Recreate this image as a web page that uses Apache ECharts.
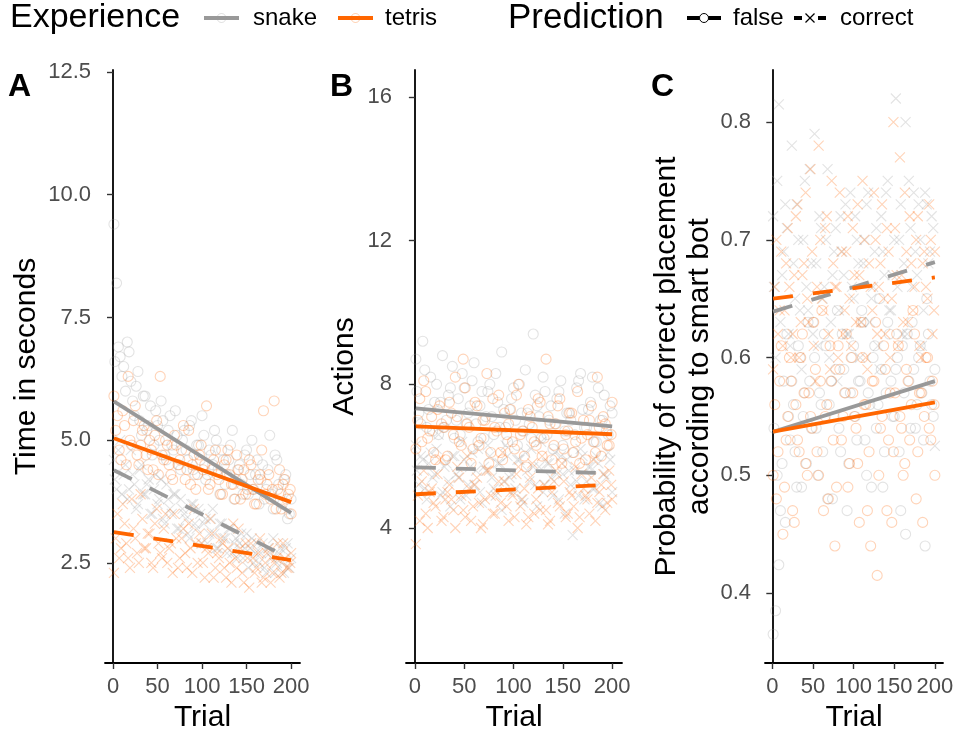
<!DOCTYPE html>
<html><head><meta charset="utf-8">
<script src="https://cdn.jsdelivr.net/npm/echarts@6/dist/echarts.min.js"></script>
<style>html,body{margin:0;padding:0;background:#fff}#c{width:966px;height:735px}</style>
</head><body><div id="c"></div><script>
// ---- data ----
const TRIALS_SNAKE = [1,4,8,12,16,20,24,28,32,36,40,44,48,52,56,60,64,68,72,76,80,84,88,92,96,100,104,108,112,116,120,124,128,132,136,140,144,148,152,156,160,164,168,172,176,180,184,188,192,196,200];
const TRIALS_TETRIS = [1,5,9,13,17,21,25,29,33,37,41,45,49,53,57,61,65,69,73,77,81,85,89,93,97,101,105,109,113,117,121,125,129,133,137,141,145,149,153,157,161,165,169,173,177,181,185,189,193,197,200];
const TRIALS_SNAKE_2 = [2,6,10,14,18,22,26,30,34,38,42,46,50,54,58,62,66,70,74,78,82,86,90,94,98,102,106,110,114,118,122,126,130,134,138,142,146,150,154,158,162,166,170,174,178,182,186,190,194,198];
const TRIALS_TETRIS_2 = [3,7,11,15,19,23,27,31,35,39,43,47,51,55,59,63,67,71,75,79,83,87,91,95,99,103,107,111,115,119,123,127,131,135,139,143,147,151,155,159,163,167,171,175,179,183,187,191,195,199];
const FIT_TRIALS = [1, 200];

// Panel A: time in seconds
const A_SNAKE_FALSE = [9.4,8.2,6.7,6.5,7.0,6.2,5.5,6.4,5.1,5.9,5.3,4.7,5.6,5.0,5.4,4.6,5.5,4.8,5.1,4.4,5.2,4.6,5.4,4.3,4.9,5.5,4.2,4.8,4.5,5.0,3.9,4.6,4.3,4.9,3.8,4.4,4.1,4.7,3.9,5.0,4.3,3.7,4.5,4.0,5.1,3.6,4.6,3.9,4.2,3.4,3.8];
const A_SNAKE_FALSE_2 = [6.6,6.9,6.3,6.0,6.8,5.8,6.1,5.4,5.9,5.2,5.7,4.9,5.3,5.8,4.7,5.2,4.9,5.6,4.5,5.0,4.8,5.3,4.4,4.9,4.6,5.1,4.3,4.7,5.2,4.4,4.8,4.1,4.6,5.2,4.2,4.5,3.9,4.8,4.3,4.0,4.6,4.2,3.8,4.4,3.9,4.7,4.1,3.7,4.3,3.5];
const A_TETRIS_FALSE = [5.9,5.5,4.6,5.3,6.3,4.9,5.7,4.5,5.2,4.7,5.0,4.4,5.4,6.3,4.6,4.9,4.3,5.1,4.5,4.8,4.2,5.2,4.5,4.0,4.7,4.4,5.7,4.1,4.6,4.3,3.9,4.5,4.8,4.1,3.8,4.4,4.2,3.9,4.6,4.0,3.7,4.3,5.6,4.1,3.8,5.8,4.0,3.6,4.2,3.9,3.5];
const A_TETRIS_FALSE_2 = [5.2,4.8,5.6,4.5,5.0,5.4,4.7,4.9,5.3,4.4,4.8,5.1,4.3,4.7,5.0,4.5,4.2,4.9,4.6,5.3,4.4,4.1,4.7,4.3,4.9,4.5,4.0,4.4,4.8,4.2,3.9,4.6,4.3,4.1,4.7,3.8,4.4,4.0,4.5,3.7,4.2,4.8,3.9,4.3,4.0,3.6,4.4,4.1,3.8,4.0];
const A_SNAKE_CORRECT = [4.6,4.0,5.0,4.3,3.8,4.8,4.1,3.7,4.5,3.9,4.2,3.5,4.3,3.8,3.4,4.1,3.6,3.9,3.2,3.8,3.5,3.1,3.7,3.3,3.6,2.9,3.4,3.1,3.6,2.8,3.3,3.0,2.7,3.2,2.9,2.6,3.1,2.8,2.4,3.0,2.7,2.5,2.9,2.3,2.7,3.0,2.5,2.8,2.3,2.9,2.6];
const A_SNAKE_CORRECT_2 = [4.2,4.8,3.9,4.5,4.0,4.3,3.6,4.4,3.9,4.1,3.5,4.0,3.7,4.2,3.3,3.8,3.5,3.9,3.2,3.6,3.4,3.0,3.7,3.2,3.5,3.3,2.9,3.4,3.1,2.8,3.3,3.0,3.2,2.7,3.0,2.9,2.6,3.1,2.8,2.5,2.9,2.7,2.4,2.8,2.6,2.3,2.7,2.5,2.8,2.4];
const A_TETRIS_CORRECT = [2.3,3.5,2.8,3.3,2.6,3.8,3.0,2.5,3.4,2.8,3.1,2.4,3.6,2.7,3.2,2.5,2.9,3.5,2.4,3.0,2.7,3.3,2.3,2.9,3.1,2.5,2.8,3.4,2.2,2.7,3.0,2.4,2.8,2.1,2.6,3.2,2.3,2.9,2.0,2.6,2.4,3.0,2.2,2.7,2.1,2.5,2.9,2.3,2.6,2.4,2.7];
const A_TETRIS_CORRECT_2 = [3.0,2.6,3.7,2.9,2.4,3.2,2.7,3.9,2.8,3.1,2.5,3.3,2.9,2.6,3.5,2.8,2.3,3.0,2.6,3.2,2.4,2.8,3.6,2.5,2.9,2.2,2.7,3.1,2.4,2.6,2.9,2.2,2.5,3.3,2.4,2.8,2.1,2.6,2.9,2.3,2.7,2.1,2.5,2.8,2.3,2.6,2.2,2.9,2.4,2.5];
const A_FIT_SNAKE_FALSE = [5.79, 3.52];
const A_FIT_TETRIS_FALSE = [5.04, 3.74];
const A_FIT_SNAKE_CORRECT = [4.39, 2.58];
const A_FIT_TETRIS_CORRECT = [3.13, 2.56];

// Panel B: actions
const B_SNAKE_FALSE = [8.7,7.2,9.2,6.8,8.2,7.5,6.6,8.8,7.0,7.9,6.5,7.6,8.3,6.9,7.4,8.6,6.4,7.8,7.1,8.0,6.6,7.5,8.9,6.8,7.3,7.9,6.3,7.2,8.4,6.9,9.4,7.4,6.5,7.8,7.0,6.2,7.6,8.1,6.7,7.2,6.1,7.9,8.3,6.8,7.3,8.2,6.4,7.0,7.7,6.6,7.2];
const B_SNAKE_FALSE_2 = [7.8,6.9,8.4,7.3,6.7,8.0,7.5,6.8,7.7,8.5,7.0,6.6,7.9,7.2,8.1,6.9,7.4,6.5,7.8,7.1,8.3,6.8,7.3,6.4,7.6,7.0,8.0,6.7,7.2,6.5,7.7,7.1,8.2,6.6,7.4,6.9,7.8,6.3,7.2,7.0,6.6,8.1,7.3,6.8,7.5,6.4,7.9,7.0,6.7,7.4];
const B_TETRIS_FALSE = [6.2,7.6,8.1,6.5,7.1,5.9,7.4,6.8,6.0,7.2,8.2,6.4,8.7,6.9,5.8,7.5,6.3,7.0,8.3,6.1,6.8,7.7,5.9,6.6,7.3,6.2,8.0,6.7,5.7,7.1,6.4,7.6,6.0,8.7,6.9,6.3,7.4,5.8,6.6,7.2,6.1,7.8,6.5,5.9,7.0,6.4,8.2,6.0,6.9,6.3,7.5];
const B_TETRIS_FALSE_2 = [7.0,6.4,7.8,6.7,6.1,7.3,6.9,5.9,7.5,6.6,7.1,6.3,7.9,6.8,6.2,7.4,6.5,7.0,5.8,7.6,6.7,6.1,7.2,6.9,6.4,7.7,6.6,6.0,7.3,6.8,6.3,7.5,6.5,7.1,5.9,6.9,7.6,6.2,6.7,7.2,6.4,5.8,7.0,6.6,7.4,6.1,6.8,7.1,6.3,6.6];
const B_SNAKE_CORRECT = [6.3,5.2,5.9,4.8,6.1,5.5,6.6,5.0,5.8,4.6,6.0,5.4,6.4,4.9,5.7,5.2,6.2,4.7,5.6,6.0,5.1,5.8,4.5,6.3,5.4,5.0,5.9,4.8,6.1,5.3,5.7,4.6,6.4,5.2,5.8,4.9,5.5,6.0,4.4,5.6,3.8,5.3,6.2,4.8,5.7,5.1,6.0,4.7,5.5,6.1,5.0];
const B_SNAKE_CORRECT_2 = [5.6,6.0,5.1,5.8,5.4,6.2,4.9,5.7,5.3,6.0,5.5,4.8,5.9,5.2,6.1,5.6,5.0,5.7,6.3,5.4,4.9,5.8,5.3,6.0,5.5,5.1,5.9,4.7,5.6,6.2,5.2,5.7,5.0,5.8,5.4,6.1,4.8,5.5,5.9,5.2,5.6,4.9,6.0,5.3,5.7,5.1,5.8,4.6,5.4,5.9];
const B_TETRIS_CORRECT = [3.55,4.2,5.6,4.0,5.1,4.6,5.9,4.3,5.0,4.8,4.0,5.4,4.5,6.0,4.2,5.2,4.7,4.1,5.6,4.9,4.4,5.3,6.1,4.6,5.0,4.3,5.7,4.8,4.1,5.4,4.4,5.1,6.0,4.5,4.2,5.3,4.7,5.8,4.3,5.0,4.6,4.0,5.5,4.9,4.4,5.9,4.7,5.2,4.5,5.6,4.8];
const B_TETRIS_CORRECT_2 = [4.9,5.3,4.4,5.0,4.7,5.5,4.2,4.8,5.2,4.5,5.7,4.9,4.3,5.1,4.6,5.4,4.0,4.8,5.6,4.4,5.0,4.7,5.3,4.2,4.9,5.5,4.6,5.1,4.3,5.8,4.8,4.5,5.2,4.1,5.0,5.6,4.6,5.3,4.4,4.9,5.7,4.3,5.1,4.8,5.4,4.2,5.0,5.5,4.7,5.2];
const B_FIT_SNAKE_FALSE = [7.33, 6.83];
const B_FIT_TETRIS_FALSE = [6.83, 6.61];
const B_FIT_SNAKE_CORRECT = [5.69, 5.52];
const B_FIT_TETRIS_CORRECT = [4.94, 5.21];

// Panel C: probability of correct placement
const C_SNAKE_FALSE = [0.365,0.385,0.424,0.51,0.46,0.55,0.58,0.52,0.61,0.49,0.57,0.63,0.54,0.60,0.50,0.56,0.62,0.48,0.58,0.55,0.64,0.52,0.59,0.47,0.57,0.61,0.53,0.58,0.63,0.50,0.56,0.60,0.54,0.65,0.49,0.57,0.62,0.55,0.59,0.52,0.61,0.45,0.58,0.63,0.54,0.60,0.57,0.44,0.62,0.56,0.59];
const C_SNAKE_FALSE_2 = [0.54,0.50,0.47,0.58,0.62,0.53,0.56,0.49,0.60,0.55,0.51,0.58,0.63,0.54,0.57,0.52,0.61,0.56,0.48,0.59,0.54,0.62,0.57,0.51,0.60,0.55,0.58,0.64,0.53,0.57,0.49,0.61,0.56,0.59,0.52,0.63,0.58,0.55,0.60,0.47,0.57,0.62,0.54,0.59,0.56,0.61,0.53,0.65,0.58,0.55];
const C_TETRIS_FALSE = [0.50,0.48,0.58,0.45,0.53,0.60,0.47,0.56,0.52,0.62,0.51,0.57,0.54,0.59,0.50,0.64,0.55,0.48,0.58,0.44,0.61,0.53,0.57,0.49,0.60,0.55,0.51,0.63,0.56,0.47,0.44,0.58,0.415,0.54,0.61,0.47,0.57,0.52,0.62,0.55,0.50,0.59,0.53,0.64,0.48,0.57,0.46,0.60,0.54,0.58,0.50];
const C_TETRIS_FALSE_2 = [0.56,0.52,0.61,0.49,0.55,0.58,0.46,0.53,0.60,0.57,0.50,0.55,0.63,0.52,0.58,0.47,0.56,0.61,0.53,0.49,0.59,0.55,0.62,0.51,0.57,0.54,0.46,0.60,0.56,0.52,0.58,0.63,0.50,0.55,0.59,0.53,0.46,0.57,0.61,0.54,0.51,0.58,0.56,0.62,0.52,0.57,0.55,0.60,0.53,0.56];
const C_SNAKE_CORRECT = [0.72,0.60,0.815,0.67,0.73,0.62,0.78,0.65,0.70,0.59,0.75,0.64,0.68,0.79,0.61,0.71,0.66,0.76,0.63,0.69,0.58,0.72,0.67,0.62,0.74,0.65,0.70,0.60,0.68,0.73,0.63,0.66,0.71,0.59,0.69,0.74,0.64,0.67,0.82,0.70,0.62,0.80,0.75,0.66,0.69,0.73,0.61,0.74,0.68,0.72,0.525];
const C_SNAKE_CORRECT_2 = [0.66,0.75,0.63,0.69,0.71,0.61,0.68,0.73,0.64,0.70,0.66,0.76,0.62,0.68,0.72,0.65,0.70,0.60,0.67,0.71,0.64,0.69,0.73,0.62,0.66,0.72,0.68,0.63,0.70,0.74,0.65,0.69,0.61,0.72,0.67,0.75,0.64,0.70,0.66,0.73,0.68,0.62,0.71,0.74,0.67,0.70,0.64,0.73,0.69,0.71];
const C_TETRIS_CORRECT = [0.59,0.70,0.64,0.61,0.68,0.66,0.62,0.72,0.60,0.67,0.74,0.63,0.69,0.58,0.78,0.65,0.71,0.62,0.75,0.66,0.60,0.69,0.64,0.72,0.61,0.67,0.73,0.63,0.70,0.59,0.66,0.74,0.62,0.68,0.65,0.71,0.60,0.80,0.67,0.77,0.63,0.69,0.72,0.64,0.70,0.61,0.68,0.66,0.73,0.62,0.69];
const C_TETRIS_CORRECT_2 = [0.66,0.62,0.69,0.64,0.71,0.60,0.67,0.73,0.63,0.68,0.65,0.76,0.61,0.66,0.70,0.64,0.72,0.59,0.68,0.66,0.74,0.62,0.69,0.65,0.71,0.63,0.67,0.75,0.60,0.68,0.64,0.70,0.66,0.73,0.62,0.69,0.65,0.71,0.61,0.67,0.74,0.63,0.68,0.66,0.72,0.60,0.69,0.65,0.70,0.64];
const C_FIT_SNAKE_FALSE = [0.537, 0.580];
const C_FIT_TETRIS_FALSE = [0.537, 0.562];
const C_FIT_SNAKE_CORRECT = [0.639, 0.681];
const C_FIT_TETRIS_CORRECT = [0.650, 0.668];

const X_TICKS = [0, 50, 100, 150, 200];
const A_TICKS = [2.5, 5.0, 7.5, 10.0, 12.5];
const B_TICKS = [4, 8, 12, 16];
const C_TICKS = [0.4, 0.5, 0.6, 0.7, 0.8];

const SNAKE = '#999999', TETRIS = '#ff6600';
const FONT = 'Liberation Sans, Arial, sans-serif';

// ---- chart ----
const chart = echarts.init(document.getElementById('c'), null, {renderer: 'canvas'});
const grids = [
  {left: 105, top: 70, width: 195, height: 593, outerBoundsMode: 'none', containLabel: false},
  {left: 406, top: 70, width: 216, height: 593, outerBoundsMode: 'none', containLabel: false},
  {left: 765, top: 70, width: 178, height: 593, outerBoundsMode: 'none', containLabel: false}
];
const yRanges = [[0.463, 12.54], [0.242, 16.75], [0.3406, 0.8442]];
const yTicks = [A_TICKS, B_TICKS, C_TICKS];
const yFmt = [v => v.toFixed(1), v => String(v), v => v.toFixed(1)];
const yNames = ['Time in seconds', 'Actions', 'Probability of correct placement\naccording to smart bot'];
const yGaps = [62, 45, 49];

const xAxis = grids.map((g, i) => ({
  gridIndex: i, type: 'value', min: -9, max: 210,
  axisLine: {show: true, lineStyle: {color: '#000', width: 1.8}},
  axisTick: {show: true, customValues: X_TICKS, length: 6, lineStyle: {color: '#333', width: 1.4}},
  axisLabel: {customValues: X_TICKS, color: '#4d4d4d', fontSize: 22, fontFamily: FONT, margin: 13, hideOverlap: false},
  splitLine: {show: false},
  name: 'Trial', nameLocation: 'middle', nameGap: 40,
  nameTextStyle: {color: '#000', fontSize: 30, fontFamily: FONT}
}));
const yAxis = grids.map((g, i) => ({
  gridIndex: i, type: 'value', min: yRanges[i][0], max: yRanges[i][1],
  axisLine: {show: true, lineStyle: {color: '#000', width: 1.8}},
  axisTick: {show: true, customValues: yTicks[i], length: 6, lineStyle: {color: '#333', width: 1.4}},
  axisLabel: {customValues: yTicks[i], formatter: yFmt[i], color: '#4d4d4d', fontSize: 22, fontFamily: FONT, margin: 14, hideOverlap: false},
  splitLine: {show: false},
  name: yNames[i], nameLocation: 'middle', nameGap: yGaps[i], nameRotate: 90,
  nameTextStyle: {color: '#000', fontSize: 30, fontFamily: FONT, lineHeight: 33, align: 'center'}
}));

const CROSS = 'path://M0,0L10,10M10,0L0,10';
function pts(tr, ys) { const n = Math.min(tr.length, ys.length); return ys.slice(0, n).map((y, k) => [tr[k], y]); }
function scatter(i, tr, ys, color, correct) {
  return {
    type: 'scatter', xAxisIndex: i, yAxisIndex: i, data: pts(tr, ys), silent: true,
    symbol: correct ? CROSS : 'circle', symbolSize: 10,
    itemStyle: {color: 'transparent', borderColor: color, borderWidth: 1.1, opacity: 0.28}, z: 2
  };
}
function fit(i, ys, color, correct) {
  return {
    type: 'line', xAxisIndex: i, yAxisIndex: i, data: pts(FIT_TRIALS, ys), silent: true,
    symbol: 'none', lineStyle: {color: color, width: 3.8, type: correct ? [20, 20] : 'solid', cap: 'butt'}, z: 5
  };
}
const panels = [
  [[A_SNAKE_FALSE, A_SNAKE_FALSE_2], [A_TETRIS_FALSE, A_TETRIS_FALSE_2], [A_SNAKE_CORRECT, A_SNAKE_CORRECT_2], [A_TETRIS_CORRECT, A_TETRIS_CORRECT_2], A_FIT_SNAKE_FALSE, A_FIT_TETRIS_FALSE, A_FIT_SNAKE_CORRECT, A_FIT_TETRIS_CORRECT],
  [[B_SNAKE_FALSE, B_SNAKE_FALSE_2], [B_TETRIS_FALSE, B_TETRIS_FALSE_2], [B_SNAKE_CORRECT, B_SNAKE_CORRECT_2], [B_TETRIS_CORRECT, B_TETRIS_CORRECT_2], B_FIT_SNAKE_FALSE, B_FIT_TETRIS_FALSE, B_FIT_SNAKE_CORRECT, B_FIT_TETRIS_CORRECT],
  [[C_SNAKE_FALSE, C_SNAKE_FALSE_2], [C_TETRIS_FALSE, C_TETRIS_FALSE_2], [C_SNAKE_CORRECT, C_SNAKE_CORRECT_2], [C_TETRIS_CORRECT, C_TETRIS_CORRECT_2], C_FIT_SNAKE_FALSE, C_FIT_TETRIS_FALSE, C_FIT_SNAKE_CORRECT, C_FIT_TETRIS_CORRECT]
];
const series = [];
panels.forEach((p, i) => {
  series.push(scatter(i, TRIALS_SNAKE, p[0][0], SNAKE, false));
  series.push(scatter(i, TRIALS_SNAKE_2, p[0][1], SNAKE, false));
  series.push(scatter(i, TRIALS_TETRIS, p[1][0], TETRIS, false));
  series.push(scatter(i, TRIALS_TETRIS_2, p[1][1], TETRIS, false));
  series.push(scatter(i, TRIALS_SNAKE, p[2][0], SNAKE, true));
  series.push(scatter(i, TRIALS_SNAKE_2, p[2][1], SNAKE, true));
  series.push(scatter(i, TRIALS_TETRIS, p[3][0], TETRIS, true));
  series.push(scatter(i, TRIALS_TETRIS_2, p[3][1], TETRIS, true));
});
panels.forEach((p, i) => {
  series.push(fit(i, p[4], SNAKE, false));
  series.push(fit(i, p[5], TETRIS, false));
  series.push(fit(i, p[6], SNAKE, true));
  series.push(fit(i, p[7], TETRIS, true));
});

const LY = 18;
const txt = (x, y, s, size, bold) => ({type: 'text', x: x, y: y, style: {text: s, fill: '#000', fontSize: size, fontFamily: FONT, fontWeight: bold ? 'bold' : 'normal', verticalAlign: 'middle'}});
const seg = (x1, x2, color) => ({type: 'line', shape: {x1: x1, y1: LY, x2: x2, y2: LY}, style: {stroke: color, lineWidth: 4}});
const graphic = [
  txt(10, LY, 'Experience', 34), seg(204, 239, SNAKE),
  {type: 'circle', shape: {cx: 221.5, cy: LY, r: 4.5}, style: {fill: 'none', stroke: SNAKE, lineWidth: 1, opacity: 0.3}},
  txt(253, LY, 'snake', 24), seg(338, 373, TETRIS),
  {type: 'circle', shape: {cx: 355.5, cy: LY, r: 4.5}, style: {fill: 'none', stroke: TETRIS, lineWidth: 1, opacity: 0.3}},
  txt(385, LY, 'tetris', 24),
  txt(508, LY, 'Prediction', 35), seg(687, 721, '#000'),
  {type: 'circle', shape: {cx: 704, cy: LY, r: 4.5}, style: {fill: '#fff', stroke: '#000', lineWidth: 1}},
  txt(733, LY, 'false', 24),
  seg(794, 802, '#000'), seg(818, 826, '#000'),
  {type: 'polyline', shape: {points: [[805.5, LY - 4.5], [814.5, LY + 4.5]]}, style: {stroke: '#000', lineWidth: 1.2}},
  {type: 'polyline', shape: {points: [[814.5, LY - 4.5], [805.5, LY + 4.5]]}, style: {stroke: '#000', lineWidth: 1.2}},
  txt(840, LY, 'correct', 24),
  txt(8, 87, 'A', 32, true), txt(330, 87, 'B', 32, true), txt(651, 87, 'C', 32, true)
];

chart.setOption({
  animation: false, backgroundColor: '#fff',
  grid: grids, xAxis: xAxis, yAxis: yAxis, series: series, graphic: graphic
});
</script></body></html>
